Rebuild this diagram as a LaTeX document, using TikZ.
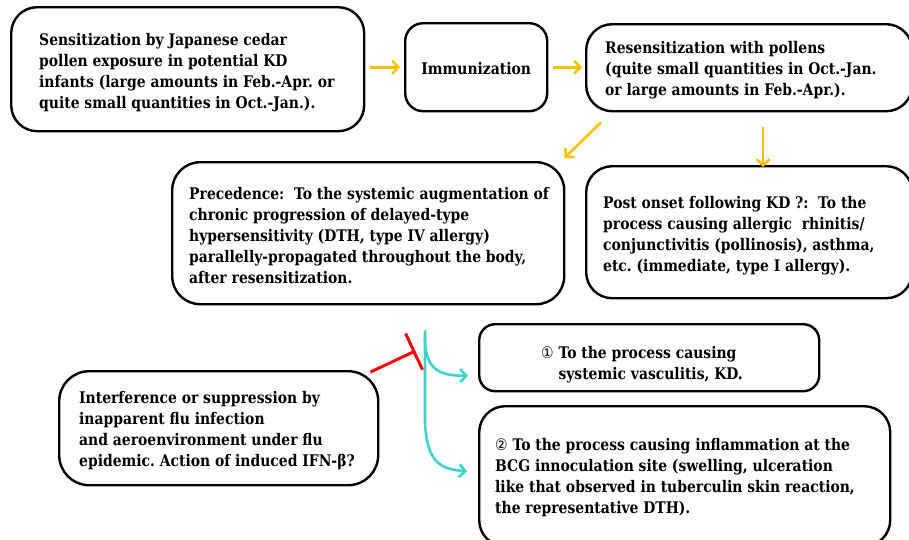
\documentclass[tikz,border=0pt]{standalone}
\usepackage{fontspec}
\setmainfont[FakeStretch=0.87]{DejaVu Serif}
\newfontfamily\symf[FakeStretch=0.87]{DejaVu Sans}
\usetikzlibrary{arrows.meta,calc}
\definecolor{org}{HTML}{FFC000}
\definecolor{cyn}{HTML}{3ED3CD}
\definecolor{rd}{HTML}{FF0000}
\begin{document}
\frenchspacing
\begin{tikzpicture}[x=1pt,y=-1pt,
  box/.style={draw=black, line width=2.4pt, rounded corners=#1, inner sep=0pt, anchor=north west},
  txt/.style={anchor=west, align=left, inner sep=0pt, font=\bfseries\fontsize{16}{21}\selectfont},
  oarr/.style={draw=org, line width=2.6pt, -{Straight Barb[length=6pt,width=13pt]}},
  cya/.style={draw=cyn, line width=2.6pt},
  cyarr/.style={cya, -{Straight Barb[length=6pt,width=13pt]}},
  rarr/.style={draw=rd, line width=3pt, -{Bar[width=40pt]}}]
\useasboundingbox (0,0) rectangle (909,539);
\clip (0,0) rectangle (909,539);
% boxes
\node[box=26pt,minimum width=353pt,minimum height=124pt] (b1) at (10,6) {};
\node[txt] (t1) at (39,73) {Sensitization by Japanese cedar\\pollen exposure in potential KD\\infants (large amounts in Feb.-Apr. or\\quite small quantities in Oct.-Jan.).};
\node[box=18pt,minimum width=142pt,minimum height=88pt] (b2) at (404,22) {};
\node[txt,anchor=center] (t2) at ($(b2.center)+(0,1)$) {Immunization};
\node[box=26pt,minimum width=326pt,minimum height=87pt] (b3) at (585,23) {};
\node[txt] (t3) at (605,70) {Resensitization with pollens\\(quite small quantities in Oct.-Jan.\\or large amounts in Feb.-Apr.).};
\node[box=28pt,minimum width=392pt,minimum height=142pt] (b4) at (171,161) {};
\node[txt] (t4) at (189,236) {Precedence:\ \ To the systemic augmentation of\\chronic progression of delayed-type\\hypersensitivity (DTH, type IV allergy)\\parallelly-propagated throughout the body,\\after resensitization.};
\node[box=26pt,minimum width=326pt,minimum height=132pt] (b5) at (585,165) {};
\node[txt] (t5) at (603,236) {Post onset following KD ?:\ \ To the\\process causing allergic\ \ rhinitis/\\conjunctivitis (pollinosis), asthma,\\etc. (immediate, type I allergy).};
\node[box=16pt,minimum width=340pt,minimum height=67pt] (b6) at (478,323) {};
\node[txt] (t6) at (541,365) {{\mdseries\symf ①} To the process causing\\\phantom{{\mdseries\symf ①} }systemic vasculitis, KD.};
\node[box=30pt,minimum width=319pt,minimum height=114pt] (b7) at (58,370) {};
\node[txt] (t7) at (79,431) {Interference or suppression by\\inapparent flu infection\\and aeroenvironment under flu\\epidemic. Action of induced IFN-β?};
\node[box=26pt,minimum width=411pt,minimum height=140pt] (b8) at (478,405) {};
\node[txt] (t8) at (495,478) {{\mdseries\symf ②} To the process causing inflammation at the\\BCG innoculation site (swelling, ulceration\\like that observed in tuberculin skin reaction,\\the representative DTH).};
% orange arrows
\draw[oarr, shorten <=5pt, shorten >=4pt] (b1.east |- b2.west) -- (b2.west);
\draw[oarr, shorten <=5pt, shorten >=3pt] (b2.east) -- (b3.west |- b2.east);
\draw[oarr] ($(b3.south west)+(16,10)$) -- ($(b4.north east)+(-1,-3)$);
\draw[oarr] ($(b5.north west)+(178,-38)$) -- ($(b5.north west)+(178,2)$);
% cyan
\coordinate (cy) at ($(b4.south west)+(254,25)$);
\draw[cyarr] (cy) -- ++(0,92) .. controls +(2,40) and +(-27,-2) .. ($(b8.west)+(-11,-5)$);
\draw[cyarr] ($(cy)+(0,8)$) .. controls +(0,34) and +(-25,0) .. ($(b6.west)+(-10,18)$);
% red inhibition
\draw[rarr] ($(b7.north east)+(-9,2)$) -- ($(b7.north east)+(36,-19)$);
\end{tikzpicture}
\end{document}
